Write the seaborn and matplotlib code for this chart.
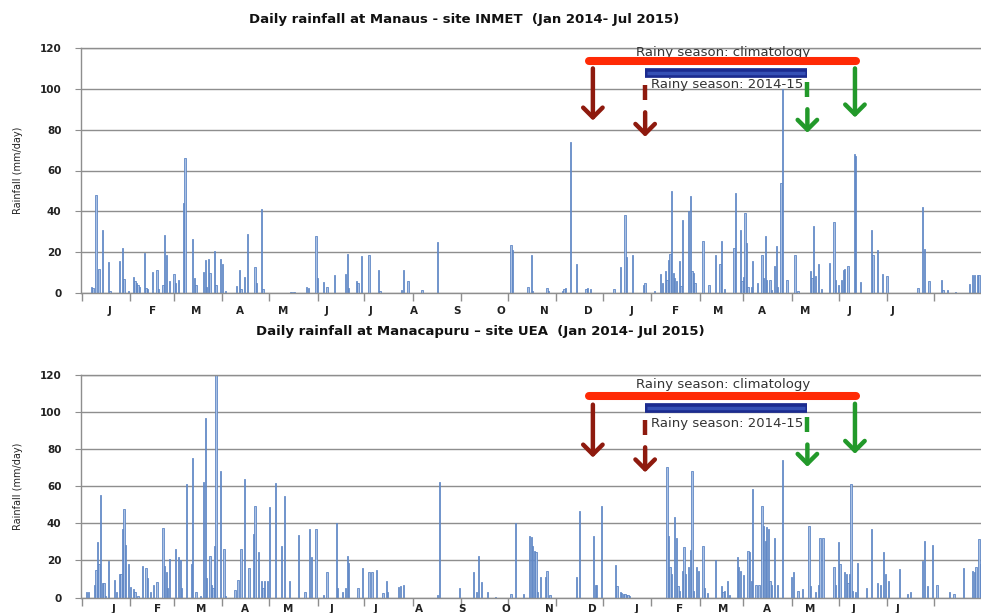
import matplotlib
matplotlib.use("Agg")
import matplotlib.pyplot as plt
import numpy as np
import pandas as pd
import seaborn as sns

# ---------------- data (day index counted from 1 Jan 2014) ----------------
manaus_days = [6, 7, 9, 11, 13, 17, 18, 24, 26, 27, 30, 33, 34, 35, 36, 37, 40, 41, 42, 45,
               48, 49, 52, 53, 54, 56, 59, 60, 62, 65, 66, 71, 72, 73, 78, 79, 80, 81, 82, 85,
               86, 89, 90, 92, 99, 101, 102, 104, 106, 111, 112, 115, 116, 134, 136, 144, 145,
               150, 151, 155, 157, 162, 169, 170, 171, 176, 177, 179, 184, 190, 191, 205, 206,
               209, 218, 228, 275, 276, 286, 288, 289, 298, 299, 308, 309, 310, 313, 317, 323,
               324, 326, 341, 345, 348, 349, 353, 360, 361, 367, 371, 372, 374, 375, 376, 377,
               378, 379, 380, 381, 383, 384, 385, 389, 390, 391, 392, 393, 398, 402, 406, 409,
               410, 412, 418, 419, 422, 423, 424, 425, 426, 427, 429, 430, 433, 436, 437, 438,
               439, 441, 442, 444, 445, 446, 448, 449, 452, 457, 459, 467, 468, 469, 470, 472,
               474, 479, 482, 483, 485, 487, 488, 489, 491, 495, 496, 499, 506, 507, 510, 513,
               516, 536, 539, 540, 543, 551, 552, 555, 560, 569, 571, 572, 574, 575]
manaus_rain = [3, 2.5, 48, 12, 31, 15, 1, 15.5, 22, 7, 1, 8, 6, 5, 4, 3, 19.5, 2.5, 2, 10.5,
               11.5, 2, 4, 28.5, 18.5, 6, 9.5, 5, 6.5, 44, 66, 26.5, 7.5, 4, 10.5, 16, 3, 16.5, 10, 20.5,
               4, 16.5, 14, 1, 3.5, 11.5, 2, 8, 29, 12.5, 5, 41, 2, 0.5, 0.5, 3, 2.5,
               28, 7.5, 5.5, 3, 8.7, 9.5, 19.3, 2.5, 6, 5, 18, 18.5, 11.5, 1, 1.5, 11.5,
               6, 1.5, 25, 23.3, 21, 3, 18.5, 1, 2.5, 1, 1, 2, 2.5, 74, 14, 2,
               2.5, 2, 2, 12.7, 38.4, 17.5, 18.5, 4, 5, 1, 9.5, 5, 10.6, 6.5, 16.3, 19.3,
               50, 10, 7.3, 5.7, 15.5, 3.6, 36, 40, 47.7, 10.6, 9.8, 5, 25.6, 4, 18.8, 14,
               25.3, 2, 22, 49, 31, 5.7, 8, 39, 24.5, 3, 3, 15.5, 5, 18.8, 7.3, 27.8,
               6.5, 6.5, 1.6, 13, 23.2, 3, 54, 100, 6.5, 18.4, 1, 10.6, 7.3, 33, 8.2, 14.2,
               2, 14.7, 34.8, 6.2, 4, 6.5, 11.4, 11.8, 13.4, 68, 67, 5.2, 31, 18.8, 21, 9.5,
               8.2, 2.5, 42, 21.7, 6, 6.5, 1.5, 1.6, 0.5, 4.5, 8.7, 8.7, 9, 9]

manacapuru_days = [3, 4, 8, 9, 10, 11, 12, 13, 14, 15, 17, 21, 22, 24, 25, 26, 27, 28, 30, 31,
                   33, 34, 36, 39, 41, 42, 44, 46, 48, 52, 53, 54, 55, 56, 60, 62, 63, 64, 67, 70,
                   71, 73, 76, 78, 79, 80, 82, 83, 84, 85, 86, 89, 91, 92, 98, 100, 102, 104, 107,
                   110, 111, 113, 115, 116, 117, 119, 120, 124, 128, 130, 133, 139, 143, 146, 147,
                   150, 155, 157, 163, 164, 167, 169, 170, 171, 177, 180, 184, 186, 189, 193, 195,
                   196, 203, 204, 206, 228, 229, 242, 251, 253, 254, 256, 260, 265, 275, 278, 283,
                   287, 288, 289, 290, 291, 292, 294, 297, 298, 300, 317, 319, 328, 329, 330, 333,
                   342, 343, 345, 346, 347, 348, 349, 350, 351, 375, 376, 377, 378, 380, 381, 382,
                   383, 385, 386, 387, 389, 390, 391, 392, 394, 395, 398, 399, 401, 406, 410, 411,
                   412, 414, 415, 420, 421, 422, 424, 427, 428, 429, 430, 432, 434, 436, 437, 438,
                   439, 440, 441, 442, 444, 446, 449, 455, 456, 459, 462, 466, 467, 470, 472, 473,
                   475, 482, 483, 485, 486, 489, 490, 491, 492, 493, 494, 496, 497, 503, 506, 510,
                   512, 514, 515, 517, 524, 529, 531, 539, 540, 542, 545, 548, 556, 559, 565, 571,
                   572, 573, 575, 576]
manacapuru_rain = [3, 3, 7, 15, 30, 18, 55.5, 8, 8, 1, 19.5, 9.5, 3, 12.5, 12.5, 37, 47.5, 28.5, 18, 5.5,
                   4.5, 3, 1, 17, 16, 10.5, 3, 7, 8.5, 37.5, 17, 14, 5, 20.5, 26, 22, 20, 5, 61, 18,
                   75, 3, 1, 62.5, 97, 10.5, 22.5, 7, 5, 28, 120, 68, 26, 1, 4, 9.5, 26, 64, 16,
                   34, 49.5, 24.5, 9, 5, 9, 9, 49, 62, 28, 55, 9, 33.5, 3, 37, 22,
                   37, 1.5, 14, 40, 5, 3, 5, 22.5, 18.5, 5, 16, 14, 13.5, 15, 2.5, 9,
                   3, 5.5, 6, 6.5, 1.5, 62.5, 5, 14, 3, 22.5, 8.5, 3, 0.5, 2, 40, 2,
                   33, 32.4, 28, 25, 24.3, 3, 10.8, 10.8, 14.4, 1.5, 11, 46.8, 33.3, 7, 7, 49.5,
                   17.7, 6.3, 3, 2.5, 2, 2, 1.5, 1.5, 1, 70.3, 33.3, 16.2, 12.6, 43.2, 32, 6,
                   3.6, 14.4, 27.4, 12.6, 16.2, 25.6, 68, 3.6, 16.2, 14.4, 28, 5, 2.5, 20.2, 6.3, 2.7,
                   3.6, 9, 1.5, 21.6, 16.2, 14.4, 12, 25.2, 24.3, 9, 58.6, 7, 7, 49.5, 38.7, 30.6,
                   37.8, 37, 9, 7, 32, 7, 74.2, 10.8, 13.5, 3.6, 4.5, 38.7, 6.3, 2.7, 7, 32,
                   32, 16.2, 7, 29.7, 18, 13.5, 12.6, 8, 12.6, 61, 3.6, 2.7, 18.4, 5, 37, 8,
                   7, 24.3, 12.6, 9, 15.3, 2, 2.7, 19.5, 30.6, 6.3, 28.3, 7, 2.7, 2, 15.7, 14.4,
                   13.5, 16.2, 31.5, 18]

month_letters = ["J", "F", "M", "A", "M", "J", "J", "A", "S", "O", "N", "D",
                 "J", "F", "M", "A", "M", "J", "J"]
month_start_days = [0, 31, 59, 90, 120, 151, 181, 212, 243, 273, 304, 334,
                    365, 396, 424, 455, 485, 516, 546]
y_ticks = [0, 20, 40, 60, 80, 100, 120]

titles = ["Daily rainfall at Manaus - site INMET  (Jan 2014- Jul 2015)",
          "Daily rainfall at Manacapuru \u2013 site UEA  (Jan 2014- Jul 2015)"]
y_label = "Rainfall (mm/day)"
label_clim = "Rainy season: climatology"
label_obs = "Rainy season: 2014-15"

# rainy season onset / demise (day index)
clim_onset, clim_end = 327.5, 495.5
obs_onset, obs_end = 361, 465

# ---------------- figure ----------------
sns.set_style("white")
plt.rcParams["font.family"] = ["DejaVu Sans"]

fig = plt.figure(figsize=(9.81, 6.13), dpi=100)
ax_top = fig.add_axes([81 / 981, 1 - 293 / 613, 900 / 981, 245 / 613])
ax_bot = fig.add_axes([81 / 981, 1 - 597.5 / 613, 900 / 981, 222.5 / 613])

GRID = "#8e8e8e"
RED_BAR = "#ff2a05"
NAVY = "#1b2b8f"
DKRED = "#8e1a0e"
GREEN = "#22992a"


def draw_panel(ax, days, rain, label_shift, label_pad, ann):
    df = pd.DataFrame({"day": days, "rain": rain})
    sns.barplot(data=df, x="day", y="rain", native_scale=True, errorbar=None,
                width=0.85, color="#a9c0e4", edgecolor="#5680c2", linewidth=0.55,
                saturation=1, ax=ax, zorder=2)
    ax.set_xlim(-0.64, 576.3)
    ax.set_ylim(0, 120)
    ax.set_yticks(y_ticks)
    ax.set_yticklabels([str(v) for v in y_ticks], fontsize=7.5, fontweight="bold",
                       color="#222222")
    ax.yaxis.grid(True, color=GRID, linewidth=1.0)
    ax.set_axisbelow(True)
    ax.tick_params(axis="y", length=4, width=0.8, color=GRID, pad=10, left=True)
    # month boundary ticks and letter labels
    ax.set_xticks(month_start_days)
    ax.set_xticklabels([""] * len(month_start_days))
    ax.tick_params(axis="x", which="major", length=6, width=1.0, color=GRID,
                   direction="out", bottom=True)
    label_pos = [label_shift + 27.9 * i for i in range(len(month_letters))]
    ax.set_xticks(label_pos, minor=True)
    ax.set_xticklabels(month_letters, minor=True, fontsize=7.5, fontweight="bold",
                       color="#222222")
    ax.tick_params(axis="x", which="minor", length=0, pad=label_pad)
    ax.set_xlabel("")
    ax.set_ylabel(y_label, fontsize=7, color="#222222", labelpad=12)
    ax.spines["right"].set_visible(False)
    for s in ["top", "left", "bottom"]:
        ax.spines[s].set_color(GRID)
        ax.spines[s].set_linewidth(1.0)

    # ---- rainy season annotations ----
    ax.text((clim_onset + clim_end) / 2 - 0.5, ann["clim_text"], label_clim,
            ha="center", va="center", fontsize=9.5, color="#333333", zorder=4)
    ax.plot([clim_onset - 2.5, clim_end + 0.5], [ann["clim_bar"]] * 2, color=RED_BAR,
            lw=5.8, solid_capstyle="round", zorder=5)
    ax.plot([obs_onset, obs_end], [ann["obs_bar"]] * 2, color=NAVY, lw=7,
            solid_capstyle="butt", zorder=5)
    ax.plot([obs_onset + 1.5, obs_end - 1.5], [ann["obs_bar"]] * 2, color="#3550b5",
            lw=2.5, solid_capstyle="butt", zorder=6)
    ax.text((obs_onset + obs_end) / 2 + 0.5, ann["obs_text"], label_obs,
            ha="center", va="center", fontsize=9.5, color="#333333", zorder=4)

    head = "->,head_length=0.7,head_width=0.7"
    for x, col, (y0, y1) in [(clim_onset, DKRED, ann["red_solid"]),
                             (clim_end, GREEN, ann["green_solid"])]:
        ax.annotate("", xy=(x, y1), xytext=(x, y0),
                    arrowprops=dict(arrowstyle=head, color=col, lw=3.2,
                                    shrinkA=0, shrinkB=0), zorder=6)
    for x, col, (d0, d1), (y0, y1) in [(obs_onset, DKRED, ann["red_dash"], ann["red_arrow"]),
                                       (obs_end, GREEN, ann["green_dash"], ann["green_arrow"])]:
        ax.plot([x, x], [d0, d1], color=col, lw=3.2, solid_capstyle="butt", zorder=6)
        ax.annotate("", xy=(x, y1), xytext=(x, y0),
                    arrowprops=dict(arrowstyle=head, color=col, lw=3.2,
                                    shrinkA=0, shrinkB=0), zorder=6)


draw_panel(ax_top, manaus_days, manaus_rain, 17.5, 9.5,
           dict(clim_text=117.8, clim_bar=113.7, obs_bar=107.8, obs_text=102.3,
                red_solid=(110, 84.5), green_solid=(110, 86),
                red_dash=(102, 94.5), red_arrow=(88.5, 76.5),
                green_dash=(103.5, 96), green_arrow=(90, 78.5)))
draw_panel(ax_bot, manacapuru_days, manacapuru_rain, 20.5, 4.5,
           dict(clim_text=114.8, clim_bar=108.7, obs_bar=102.2, obs_text=93.8,
                red_solid=(104, 75.5), green_solid=(104.5, 77.5),
                red_dash=(95.5, 87.5), red_arrow=(81, 67.5),
                green_dash=(97.5, 89.5), green_arrow=(82.5, 70.5)))

fig.text(464.5 / 981, 1 - 19 / 613, titles[0], ha="center", va="center",
         fontsize=9.5, fontweight="bold", color="#111111")
fig.text(480 / 981, 1 - 331 / 613, titles[1], ha="center", va="center",
         fontsize=9.5, fontweight="bold", color="#111111")

fig.savefig("out.png", dpi=100, facecolor="white")
